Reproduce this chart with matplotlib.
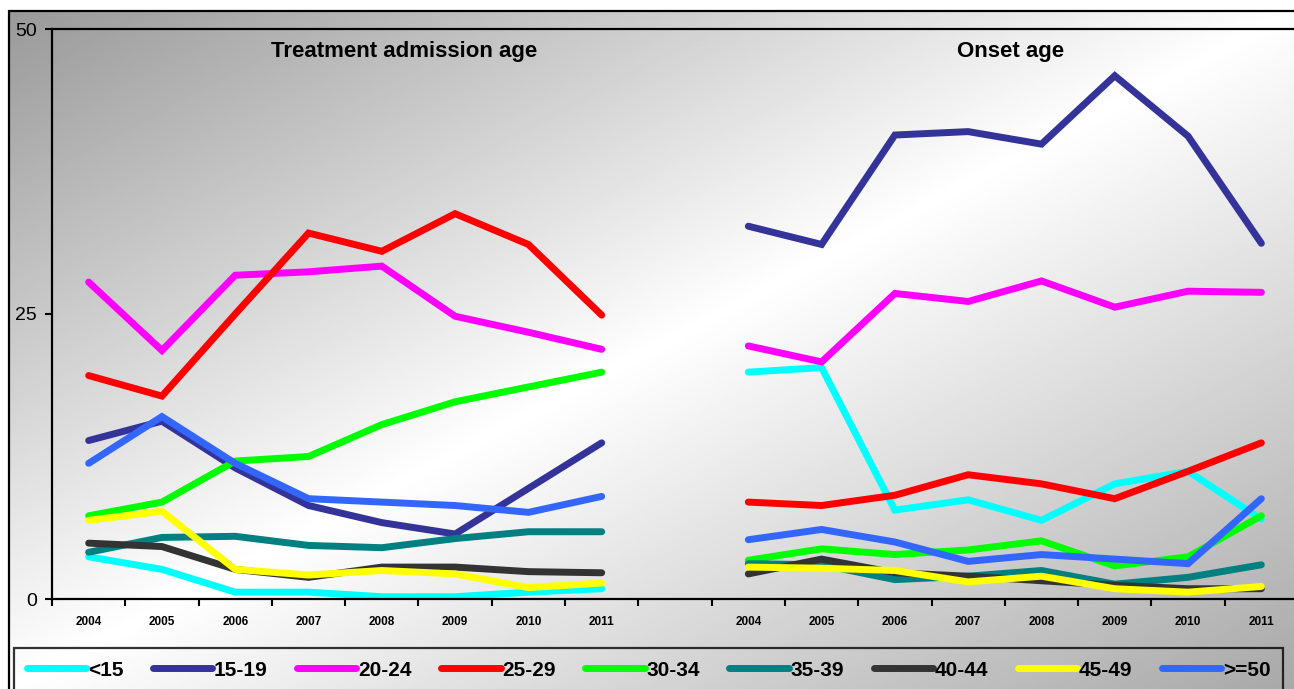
import numpy as np
import matplotlib
matplotlib.use("Agg")
import matplotlib.pyplot as plt
from matplotlib.patches import Rectangle

plt.rcParams['font.family'] = ['Liberation Sans', 'DejaVu Sans']

years = ['2004', '2005', '2006', '2007', '2008', '2009', '2010', '2011']
panel_titles = ['Treatment admission age', 'Onset age']
groups = ['<15', '15-19', '20-24', '25-29', '30-34', '35-39', '40-44', '45-49', '>=50']
colors = ['#00FFFF', '#333399', '#FF00FF', '#FF0000', '#00FF00', '#008080', '#333333', '#FFFF00', '#3366FF']

# Treatment admission age (%)
adm_lt15 = [3.7, 2.6, 0.6, 0.6, 0.2, 0.2, 0.6, 0.9]
adm_15_19 = [13.9, 15.6, 11.5, 8.2, 6.7, 5.7, 9.7, 13.7]
adm_20_24 = [27.8, 21.8, 28.4, 28.7, 29.2, 24.8, 23.4, 21.9]
adm_25_29 = [19.6, 17.8, 25.0, 32.1, 30.5, 33.8, 31.1, 24.9]
adm_30_34 = [7.3, 8.5, 12.1, 12.5, 15.3, 17.3, 18.6, 19.9]
adm_35_39 = [4.1, 5.4, 5.5, 4.7, 4.5, 5.3, 5.9, 5.9]
adm_40_44 = [4.9, 4.6, 2.6, 1.9, 2.8, 2.8, 2.4, 2.3]
adm_45_49 = [6.9, 7.7, 2.6, 2.1, 2.5, 2.2, 1.0, 1.4]
adm_ge50 = [11.9, 16.0, 11.9, 8.8, 8.5, 8.2, 7.6, 9.0]

# Onset age (%)
ons_lt15 = [19.9, 20.3, 7.8, 8.7, 6.9, 10.1, 11.2, 7.0]
ons_15_19 = [32.7, 31.1, 40.7, 41.0, 39.9, 45.9, 40.6, 31.2]
ons_20_24 = [22.2, 20.8, 26.8, 26.1, 27.9, 25.6, 27.0, 26.9]
ons_25_29 = [8.5, 8.2, 9.1, 10.9, 10.1, 8.8, 11.2, 13.7]
ons_30_34 = [3.4, 4.4, 3.9, 4.3, 5.1, 2.9, 3.7, 7.3]
ons_35_39 = [3.1, 3.0, 1.7, 2.0, 2.5, 1.3, 1.9, 3.0]
ons_40_44 = [2.2, 3.5, 2.3, 2.0, 1.6, 1.2, 0.9, 0.9]
ons_45_49 = [2.8, 2.7, 2.5, 1.5, 2.0, 0.9, 0.6, 1.1]
ons_ge50 = [5.2, 6.1, 5.0, 3.3, 3.9, 3.5, 3.1, 8.8]

adm_series = [adm_lt15, adm_15_19, adm_20_24, adm_25_29, adm_30_34,
              adm_35_39, adm_40_44, adm_45_49, adm_ge50]
ons_series = [ons_lt15, ons_15_19, ons_20_24, ons_25_29, ons_30_34,
              ons_35_39, ons_40_44, ons_45_49, ons_ge50]

W, H = 1294, 689
fig = plt.figure(figsize=(W / 100, H / 100), dpi=100)
fig.patch.set_facecolor('white')

# background gradient inside outer frame
fx0 = 9 / W
fy1 = 1 - 11 / H
bg = fig.add_axes([0, 0, 1, 1], zorder=-10)
bg.set_xlim(0, 1)
bg.set_ylim(0, 1)
bg.axis('off')
yy, xx = np.mgrid[0:1:400j, 0:1:800j]
u = (xx + yy) / 2.0
d = 2 * u - 1
G = np.where(d < 0, 1 - 0.40 * np.abs(d), 1 - 0.34 * d)
bg.imshow(G, extent=[fx0, 1, 0, fy1], cmap='gray', vmin=0, vmax=1,
          aspect='auto', origin='upper', interpolation='bilinear')
bg.add_patch(Rectangle((fx0, -0.05), 1.2, fy1 + 0.05, fill=False,
                       ec='black', lw=1.6, transform=bg.transAxes))

ax = fig.add_axes([52 / W, 90 / H, 1246 / W, 570 / H])
ax.set_facecolor('none')

n = len(years)
x_left = np.arange(n)
x_right = np.arange(n) + n + 1

handles = []
for name, col, a, o in zip(groups, colors, adm_series, ons_series):
    h, = ax.plot(x_left, a, color=col, lw=5, solid_capstyle='round',
                 solid_joinstyle='miter', label=name)
    ax.plot(x_right, o, color=col, lw=5, solid_capstyle='round',
            solid_joinstyle='miter')
    handles.append(h)

ax.set_xlim(-0.5, 2 * n + 0.5)
ax.set_ylim(0, 50)
ax.set_yticks([0, 25, 50])
ax.set_yticklabels(['0', '25', '50'], fontsize=14)
ax.tick_params(axis='y', direction='out', length=5, width=1.5, pad=6)

ax.set_xticks(np.arange(-0.5, 2 * n + 1, 1))
ax.set_xticklabels([])
ax.tick_params(axis='x', which='major', direction='out', length=5, width=1.5)
minor_pos = list(x_left) + [n] + list(x_right)
minor_lab = years + [''] + years
ax.set_xticks(minor_pos, minor=True)
ax.set_xticklabels(minor_lab, minor=True, fontsize=8.5, fontweight='bold')
ax.tick_params(axis='x', which='minor', length=0, pad=12)

for s in ax.spines.values():
    s.set_linewidth(1.6)

fig.text(404 / W, 1 - 51 / H, panel_titles[0], ha='center', va='center',
         fontsize=16, fontweight='bold')
fig.text(1011 / W, 1 - 51 / H, panel_titles[1], ha='center', va='center',
         fontsize=16, fontweight='bold')

leg = fig.legend(handles=handles, loc='upper left',
                 bbox_to_anchor=(14 / W, 1 - 648 / H), ncol=9,
                 prop={'size': 15, 'weight': 'bold'},
                 handlelength=2.85, handletextpad=0.1, columnspacing=1.4,
                 borderpad=0.6, borderaxespad=0, fancybox=False,
                 frameon=True)
leg.get_frame().set_facecolor('none')
leg.get_frame().set_edgecolor('black')
leg.get_frame().set_linewidth(1.6)
for line in leg.get_lines():
    line.set_linewidth(5)
    line.set_solid_capstyle('round')

fig.savefig('out.png', dpi=100)
